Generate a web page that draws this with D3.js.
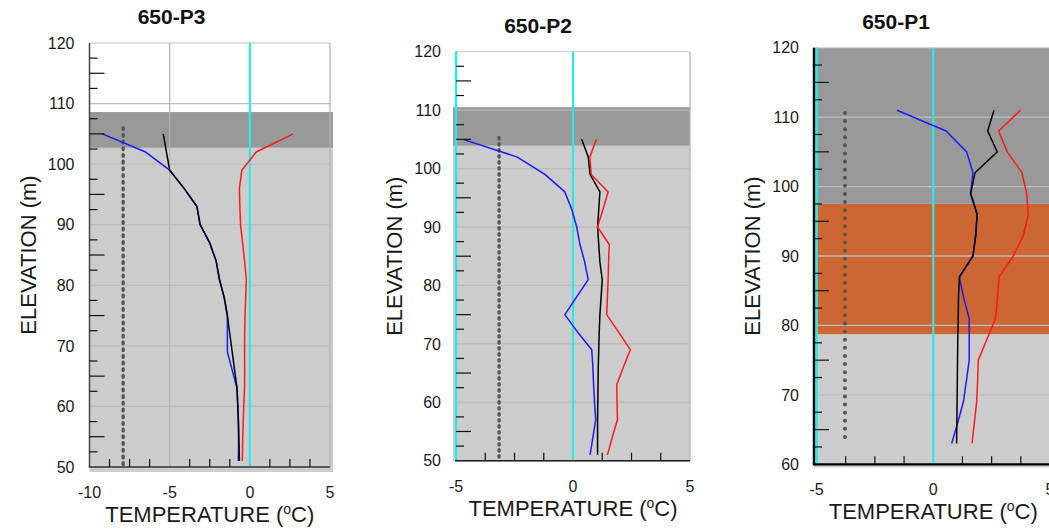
<!DOCTYPE html>
<html><head><meta charset="utf-8">
<script src="https://cdn.jsdelivr.net/npm/d3@7/dist/d3.min.js"></script>
<style>
body{margin:0;background:#fff}
svg{display:block;font-family:"Liberation Sans",Arial,sans-serif}
</style>
</head><body>
<svg id="chart" width="1049" height="530"></svg>
<script>
// ---------- DATA ----------
const titles = ["650-P3", "650-P2", "650-P1"];

const elevP3 = [105,102,99,96,93,90,87,84,81,78,75,72,69,66,63,60,57,54,51];
const blueP3 = [-9.2,-6.5,-5.0,-4.1,-3.3,-3.1,-2.5,-2.1,-1.9,-1.6,-1.4,-1.4,-1.4,-1.1,-0.8,-0.75,-0.72,-0.7,-0.72];
const blackP3 = [-5.4,-5.2,-5.0,-4.1,-3.3,-3.1,-2.5,-2.1,-1.9,-1.6,-1.4,-1.25,-1.1,-0.95,-0.8,-0.75,-0.7,-0.68,-0.65];
const redP3 = [2.7,0.4,-0.5,-0.65,-0.62,-0.58,-0.45,-0.33,-0.22,-0.26,-0.3,-0.32,-0.33,-0.32,-0.33,-0.38,-0.42,-0.45,-0.47];

const elevP2 = [105,102,99,96,93,90,87,84,81,78,75,72,69,66,63,60,57,54,51];
const blueP2 = [-4.7,-2.4,-1.2,-0.35,-0.05,0.16,0.3,0.5,0.65,0.15,-0.35,0.2,0.8,0.85,0.88,0.92,0.97,0.85,0.73];
const blackP2 = [0.37,0.65,0.73,1.15,1.1,1.05,1.1,1.15,1.25,1.2,1.15,1.12,1.1,1.08,1.07,1.06,1.05,1.05,1.05];
const redP2 = [1.0,0.72,0.78,1.5,1.28,1.05,1.55,1.52,1.5,1.47,1.44,1.95,2.45,2.15,1.87,1.88,1.9,1.68,1.47];

const elevP1 = [111,108,105,102,99,96,93,90,87,84,81,78,75,72,69,66,63];
const blueP1 = [-1.55,0.55,1.43,1.7,1.6,1.88,1.82,1.7,1.12,1.3,1.54,1.54,1.54,1.42,1.29,1.05,0.79];
const blackP1 = [2.6,2.33,2.74,1.79,1.6,1.88,1.82,1.7,1.12,1.08,1.07,1.05,1.04,1.03,1.02,1.01,1.0];
const redP1 = [3.74,2.8,3.17,3.8,4.0,4.07,3.86,3.43,2.82,2.75,2.67,2.3,1.93,1.9,1.86,1.76,1.66];

const tempDomainP3 = [-10, 5], tempDomainP2 = [-5, 5], tempDomainP1 = [-5, 5];
const elevDomainP3 = [50, 120], elevDomainP2 = [50, 120], elevDomainP1 = [60, 120];
const xTickLabelsP3 = [-10, -5, 0, 5];
const xTickLabelsP2 = [-5, 0, 5];
const xTickLabelsP1 = [-5, 0, 5];
const yTickLabelsP3 = [50, 60, 70, 80, 90, 100, 110, 120];
const yTickLabelsP2 = [50, 60, 70, 80, 90, 100, 110, 120];
const yTickLabelsP1 = [60, 70, 80, 90, 100, 110, 120];

// strata bands [from, to] and their kind
const strataP3 = [[50, 102.7], [102.7, 108.6]];
const strataKindP3 = ["light", "dark"];
const strataP2 = [[50, 103.9], [103.9, 110.5]];
const strataKindP2 = ["light", "dark"];
const strataP1 = [[60, 78.75], [78.75, 97.5], [97.5, 120]];
const strataKindP1 = ["light", "orange", "dark"];

// reference (cyan) temperature lines
const refLinesP3 = [0];
const refLinesP2 = [-5, 0];
const refLinesP1 = [-5, 0];
// vertical grid temperatures
const vGridP3 = [-5, 5];
const vGridP2 = [5];
const vGridP1 = [];
// dotted probe line: [temperature, top elevation, bottom elevation]
const probeP3 = [-7.9, 106, 49.7];
const probeP2 = [-3.16, 105.3, 50];
const probeP1 = [-3.78, 110.6, 62.85];

// ---------- LAYOUT / STYLE ----------
const colors = {light: "#cccccc", dark: "#999999", orange: "#cc6633",
  blue: "#1a1aff", black: "#000000", red: "#ff1a1a", cyan: "#2ee8e8", grid: "#bdbdbd"};

const panels = [
  {title: titles[0], elev: elevP3, series: [blueP3, blackP3, redP3],
   xd: tempDomainP3, yd: elevDomainP3, xt: xTickLabelsP3, yt: yTickLabelsP3,
   strata: strataP3, kinds: strataKindP3, ref: refLinesP3, vgrid: vGridP3, probe: probeP3,
   xr: [89.5, 330], yr: [467, 43], axisX: 89.5, ext: [3, 5], extL: 0,
   dash: "1.6 5.1", dw: 3.4, axisColor: "#444", axisW: 1.5},
  {title: titles[1], elev: elevP2, series: [blueP2, blackP2, redP2],
   xd: tempDomainP2, yd: elevDomainP2, xt: xTickLabelsP2, yt: yTickLabelsP2,
   strata: strataP2, kinds: strataKindP2, ref: refLinesP2, vgrid: vGridP2, probe: probeP2,
   xr: [456, 690], yr: [460.7, 51.7], axisX: 456, ext: [0, 1], extL: 3,
   dash: "1.4 4.6", dw: 3.4, axisColor: "#222", axisW: 1.5},
  {title: titles[2], elev: elevP1, series: [blueP1, blackP1, redP1],
   xd: tempDomainP1, yd: elevDomainP1, xt: xTickLabelsP1, yt: yTickLabelsP1,
   strata: strataP1, kinds: strataKindP1, ref: refLinesP1, vgrid: vGridP1, probe: probeP1,
   xr: [816.5, 1050], yr: [464.3, 47.7], axisX: 814, ext: [0, 3], extL: 0,
   dash: "0 8.1", dw: 4, axisColor: "#000", axisW: 2.5}
];
const seriesColors = [colors.blue, colors.black, colors.red];

const svg = d3.select("#chart");

panels.forEach(p => {
  const x = d3.scaleLinear().domain(p.xd).range(p.xr);
  const y = d3.scaleLinear().domain(p.yd).range(p.yr);
  const g = svg.append("g");
  const L = p.axisX, R = p.xr[1], T = p.yr[1], B = p.yr[0];

  // plot background white
  g.append("rect").attr("x", L).attr("y", T).attr("width", R - L).attr("height", B - T).attr("fill", "#fff");

  // strata bands
  p.strata.forEach((s, i) => {
    const y0 = y(s[0]), y1 = y(s[1]);
    const isBottom = s[0] === p.yd[0];
    g.append("rect")
      .attr("x", L - p.extL)
      .attr("y", y1)
      .attr("width", R - L + p.ext[0] + p.extL)
      .attr("height", (y0 - y1) + (isBottom ? p.ext[1] : 0))
      .attr("fill", colors[p.kinds[i]]);
  });

  // horizontal grid
  d3.range(p.yd[0] + 10, p.yd[1] + 0.1, 10).forEach(v => {
    g.append("line").attr("x1", L).attr("x2", R).attr("y1", y(v)).attr("y2", y(v))
      .attr("stroke", v === p.yd[1] ? "#d4d4d4" : colors.grid).attr("stroke-width", 1.3);
  });
  // vertical grid
  p.vgrid.forEach(v => {
    g.append("line").attr("x1", x(v)).attr("x2", x(v)).attr("y1", T).attr("y2", B)
      .attr("stroke", "#b4b4b4").attr("stroke-width", 1.3);
  });

  // cyan reference lines
  p.ref.forEach(v => {
    g.append("line").attr("x1", x(v)).attr("x2", x(v)).attr("y1", T).attr("y2", B - 1)
      .attr("stroke", colors.cyan).attr("stroke-width", 2.2);
  });

  // dotted probe
  g.append("line")
    .attr("x1", x(p.probe[0])).attr("x2", x(p.probe[0]))
    .attr("y1", y(p.probe[1])).attr("y2", y(p.probe[2]))
    .attr("stroke", "#555").attr("stroke-width", p.dw)
    .attr("stroke-linecap", "round").attr("stroke-dasharray", p.dash);

  // series
  const line = d3.line().x(d => x(d[0])).y(d => y(d[1]));
  p.series.forEach((vals, i) => {
    g.append("path").datum(vals.map((t, k) => [t, p.elev[k]]))
      .attr("d", line).attr("fill", "none")
      .attr("stroke", seriesColors[i]).attr("stroke-width", 1.5)
      .attr("stroke-linejoin", "round");
  });

  // left axis
  g.append("line").attr("x1", L).attr("x2", L).attr("y1", T).attr("y2", B)
    .attr("stroke", p.axisColor).attr("stroke-width", p.axisW);
  if (p.ref.includes(p.xd[0])) {
    g.append("line").attr("x1", x(p.xd[0])).attr("x2", x(p.xd[0])).attr("y1", T).attr("y2", B - 1)
      .attr("stroke", colors.cyan).attr("stroke-width", 2.2);
  }
  d3.range(p.yd[0] + 2.5, p.yd[1], 2.5).filter(v => v % 10 !== 0).forEach(v => {
    const len = v % 5 === 0 ? 15 : 8;
    g.append("line").attr("x1", L).attr("x2", L + len).attr("y1", y(v)).attr("y2", y(v))
      .attr("stroke", "#111").attr("stroke-width", 1.2);
  });
  p.yt.forEach(v => {
    g.append("text").attr("x", L - 15).attr("y", y(v)).attr("dy", "0.36em")
      .attr("text-anchor", "end").attr("font-size", 16).attr("fill", "#1a1a1a").text(v);
  });

  // bottom axis
  g.append("line").attr("x1", L - p.axisW / 2).attr("x2", R).attr("y1", B).attr("y2", B)
    .attr("stroke", p.axisColor === "#444" ? "#333" : p.axisColor).attr("stroke-width", p.axisW === 2.5 ? 2.2 : 1.5);
  d3.range(p.xd[0] + 1.25, p.xd[1], 1.25).filter(v => Math.abs(v % 5) > 1e-6).forEach(v => {
    g.append("line").attr("x1", x(v)).attr("x2", x(v)).attr("y1", B).attr("y2", B - 8)
      .attr("stroke", "#111").attr("stroke-width", 1.2);
  });
  p.xt.forEach(v => {
    g.append("text").attr("x", x(v)).attr("y", B + 31)
      .attr("text-anchor", "middle").attr("font-size", 16).attr("fill", "#1a1a1a").text(v);
  });

  // axis titles
  const xt = g.append("text").attr("x", (p.xr[0] + p.xr[1]) / 2).attr("y", B + 55)
    .attr("text-anchor", "middle").attr("font-size", 22).attr("fill", "#1a1a1a");
  xt.append("tspan").text("TEMPERATURE (");
  xt.append("tspan").attr("font-size", 14).attr("dy", -8).text("o");
  xt.append("tspan").attr("dy", 8).text("C)");

  g.append("text").attr("transform", `translate(${L - 54},${(T + B) / 2}) rotate(-90)`)
    .attr("text-anchor", "middle").attr("font-size", 22).attr("fill", "#1a1a1a")
    .text("ELEVATION (m)");

  // title
  g.append("text").attr("x", L + 82).attr("y", T - 19).attr("text-anchor", "middle")
    .attr("font-size", 21).attr("font-weight", "bold").attr("fill", "#111").text(p.title);
});
</script>
</body></html>
